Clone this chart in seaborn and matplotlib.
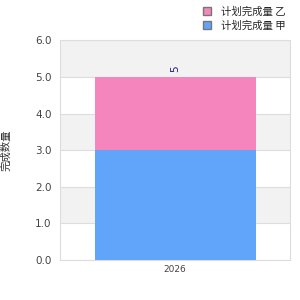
import matplotlib
matplotlib.use("Agg")
import matplotlib.pyplot as plt
import seaborn as sns
import pandas as pd
from matplotlib.patches import Patch

categories = ["2026"]
series_names = ["计划完成量 甲", "计划完成量 乙"]
series_a = [3]
series_b = [2]
y_ticks = [0, 1, 2, 3, 4, 5, 6]
y_label = "完成数量"
colors = ["#60a5fa", "#f485bd"]

sns.set_theme(style="white")
plt.rcParams["font.family"] = ["Noto Sans CJK SC", "DejaVu Sans"]

totals = [a + b for a, b in zip(series_a, series_b)]
df = pd.DataFrame({"cat": categories, "a": series_a, "total": totals})

fig = plt.figure(figsize=(3, 3), dpi=100)
ax = fig.add_axes([0.2, 0.133, 0.767, 0.733])

# alternating bands
for i in range(len(y_ticks) - 1):
    if i % 2 == 1:
        ax.axhspan(y_ticks[i], y_ticks[i + 1], color="#f2f2f2", zorder=0, lw=0)
for t in y_ticks:
    ax.axhline(t, color="#dddddd", lw=0.8, zorder=0.5)

sns.barplot(data=df, x="cat", y="total", color=colors[1], width=0.7,
            saturation=1, ax=ax, zorder=2, linewidth=0)
sns.barplot(data=df, x="cat", y="a", color=colors[0], width=0.7,
            saturation=1, ax=ax, zorder=3, linewidth=0)

for i, t in enumerate(totals):
    ax.text(i, t + 0.12, str(t), rotation=90, ha="center", va="bottom",
            fontsize=7.5, color="#1a1a8c", family=["DejaVu Sans"])

ax.set_ylim(0, 6)
ax.set_yticks(y_ticks)
ax.set_yticklabels([f"{t:.1f}" for t in y_ticks], fontsize=7.5, color="#444444",
                   family=["DejaVu Sans"])
ax.tick_params(axis="x", labelsize=6.5, colors="#444444", length=0)
ax.tick_params(axis="y", length=0, pad=6)
for lab in ax.get_xticklabels():
    lab.set_family(["DejaVu Sans"])
ax.set_xlabel("")
ax.set_ylabel(y_label, fontsize=7.5, color="#333333", labelpad=17)
for s in ax.spines.values():
    s.set_color("#dddddd")
    s.set_linewidth(0.8)

handles = [Patch(facecolor=colors[1], edgecolor="#777777", label=series_names[1]),
           Patch(facecolor=colors[0], edgecolor="#777777", label=series_names[0])]
fig.legend(handles=handles, loc="upper left", bbox_to_anchor=(0.645, 1.01),
           frameon=False, fontsize=7.5, handlelength=0.8, handleheight=0.8,
           handletextpad=0.9, labelspacing=0.35)

fig.savefig("out.png", dpi=100)
